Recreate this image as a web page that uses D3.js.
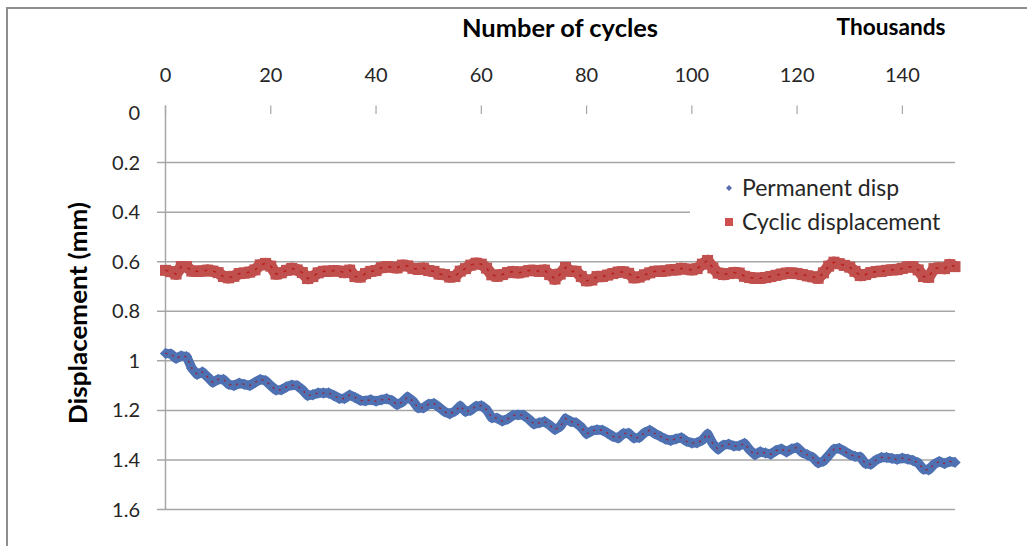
<!DOCTYPE html>
<html>
<head>
<meta charset="utf-8">
<script src="https://cdn.jsdelivr.net/npm/d3@7"></script>
<style>
  html, body { margin: 0; padding: 0; background: #fff; }
  svg { display: block; font-family: Lato, "Open Sans", sans-serif; }
</style>
</head>
<body>
<svg id="chart" width="1027" height="546"></svg>
<script>
// x values: number of cycles (thousands), one reading per 1k cycles
const cycles = d3.range(0, 151);

// Permanent displacement (mm)
const permanentDisp = [
  0.970, 0.972, 0.990, 0.980, 0.983, 1.030, 1.055, 1.045, 1.065, 1.087,
  1.075, 1.075, 1.095, 1.100, 1.090, 1.095, 1.100, 1.087, 1.075, 1.080,
  1.100, 1.118, 1.117, 1.105, 1.098, 1.100, 1.117, 1.140, 1.137, 1.130,
  1.130, 1.130, 1.140, 1.152, 1.152, 1.138, 1.148, 1.160, 1.162, 1.157,
  1.163, 1.158, 1.153, 1.160, 1.177, 1.166, 1.146, 1.162, 1.190, 1.190,
  1.175, 1.172, 1.188, 1.205, 1.214, 1.203, 1.182, 1.205, 1.200, 1.183,
  1.181, 1.197, 1.230, 1.231, 1.243, 1.235, 1.220, 1.218, 1.219, 1.235,
  1.255, 1.250, 1.245, 1.260, 1.278, 1.265, 1.233, 1.245, 1.250, 1.268,
  1.295, 1.283, 1.278, 1.280, 1.292, 1.305, 1.312, 1.293, 1.292, 1.312,
  1.310, 1.290, 1.280, 1.294, 1.305, 1.316, 1.322, 1.315, 1.310, 1.325,
  1.332, 1.331, 1.320, 1.295, 1.335, 1.357, 1.340, 1.336, 1.344, 1.343,
  1.333, 1.360, 1.379, 1.367, 1.372, 1.377, 1.362, 1.355, 1.368, 1.355,
  1.350, 1.370, 1.380, 1.390, 1.412, 1.405, 1.382, 1.357, 1.353, 1.365,
  1.378, 1.386, 1.388, 1.415, 1.418, 1.400, 1.390, 1.390, 1.394, 1.398,
  1.393, 1.397, 1.402, 1.412, 1.438, 1.440, 1.418, 1.406, 1.415, 1.406,
  1.410
];

// Cyclic displacement (mm)
const cyclicDisp = [
  0.635, 0.640, 0.650, 0.620, 0.620, 0.638, 0.639, 0.638, 0.634, 0.638,
  0.644, 0.660, 0.665, 0.659, 0.648, 0.646, 0.642, 0.633, 0.613, 0.607,
  0.618, 0.650, 0.645, 0.635, 0.627, 0.633, 0.644, 0.668, 0.660, 0.645,
  0.639, 0.639, 0.636, 0.638, 0.644, 0.634, 0.660, 0.662, 0.648, 0.639,
  0.636, 0.624, 0.620, 0.622, 0.625, 0.614, 0.617, 0.627, 0.631, 0.626,
  0.636, 0.639, 0.650, 0.652, 0.662, 0.660, 0.638, 0.628, 0.614, 0.606,
  0.610, 0.626, 0.653, 0.659, 0.652, 0.644, 0.640, 0.645, 0.641, 0.636,
  0.635, 0.639, 0.634, 0.652, 0.670, 0.650, 0.623, 0.639, 0.639, 0.660,
  0.677, 0.674, 0.660, 0.660, 0.654, 0.648, 0.642, 0.641, 0.647, 0.665,
  0.662, 0.653, 0.645, 0.639, 0.639, 0.637, 0.633, 0.633, 0.627, 0.630,
  0.633, 0.628, 0.610, 0.595, 0.625, 0.646, 0.652, 0.648, 0.644, 0.646,
  0.659, 0.664, 0.667, 0.667, 0.664, 0.660, 0.655, 0.650, 0.646, 0.646,
  0.648, 0.652, 0.657, 0.661, 0.667, 0.645, 0.618, 0.602, 0.608, 0.615,
  0.622, 0.639, 0.656, 0.652, 0.644, 0.640, 0.639, 0.635, 0.633, 0.632,
  0.627, 0.621, 0.620, 0.633, 0.660, 0.663, 0.628, 0.625, 0.628, 0.612,
  0.620
];

const xTicks = [0, 20, 40, 60, 80, 100, 120, 140];
const yTicks = [0, 0.2, 0.4, 0.6, 0.8, 1, 1.2, 1.4, 1.6];
const yTickLabels = ["0", "0.2", "0.4", "0.6", "0.8", "1", "1.2", "1.4", "1.6"];
const seriesNames = ["Permanent disp", "Cyclic displacement"];

const svg = d3.select("#chart");

// plot area
const x = d3.scaleLinear().domain([0, 150]).range([165.5, 955]);
const y = d3.scaleLinear().domain([0, 1.6]).range([113, 509.5]);

// outer chart border (top and left edges visible)
svg.append("path")
    .attr("d", "M7,546 L7,8 L1027,8")
    .attr("fill", "none")
    .attr("stroke", "#8e8e8e")
    .attr("stroke-width", 2);

// horizontal gridlines + left tick stubs
svg.append("g")
    .selectAll("line")
    .data(yTicks.filter(d => d > 0))
    .join("line")
    .attr("x1", 157).attr("x2", x(150))
    .attr("y1", d => y(d)).attr("y2", d => y(d))
    .attr("stroke", "#a6a6a6")
    .attr("stroke-width", 1.5);

// left axis line
svg.append("line")
    .attr("x1", x(0)).attr("x2", x(0))
    .attr("y1", 105.5).attr("y2", y(1.6))
    .attr("stroke", "#a6a6a6")
    .attr("stroke-width", 1.5);

// top axis tick marks
svg.append("g")
    .selectAll("line")
    .data(xTicks)
    .join("line")
    .attr("x1", d => x(d)).attr("x2", d => x(d))
    .attr("y1", 105.5).attr("y2", 114)
    .attr("stroke", "#a6a6a6")
    .attr("stroke-width", 1.2);

// top axis labels
svg.append("g")
    .selectAll("text")
    .data(xTicks)
    .join("text")
    .attr("x", d => x(d))
    .attr("y", 75)
    .attr("dy", "0.35em")
    .attr("text-anchor", "middle")
    .attr("font-size", 20)
    .attr("fill", "#262626")
    .text(d => d);

// left axis labels
svg.append("g")
    .selectAll("text")
    .data(yTicks)
    .join("text")
    .attr("x", 140)
    .attr("y", d => y(d))
    .attr("dy", "0.35em")
    .attr("text-anchor", "end")
    .attr("font-size", 20)
    .attr("fill", "#262626")
    .text((d, i) => yTickLabels[i]);

// axis titles
svg.append("text")
    .attr("x", 560).attr("y", 29)
    .attr("dy", "0.35em")
    .attr("text-anchor", "middle")
    .attr("font-size", 24).attr("font-weight", "bold")
    .attr("textLength", 196).attr("lengthAdjust", "spacingAndGlyphs")
    .text("Number of cycles");

svg.append("text")
    .attr("x", 891).attr("y", 27)
    .attr("dy", "0.35em")
    .attr("text-anchor", "middle")
    .attr("font-size", 22).attr("font-weight", "bold")
    .attr("textLength", 109).attr("lengthAdjust", "spacingAndGlyphs")
    .text("Thousands");

svg.append("text")
    .attr("transform", "translate(79,313) rotate(-90)")
    .attr("dy", "0.35em")
    .attr("text-anchor", "middle")
    .attr("font-size", 24).attr("font-weight", "bold")
    .attr("textLength", 222).attr("lengthAdjust", "spacingAndGlyphs")
    .text("Displacement (mm)");

// legend box hides part of the 0.4 gridline
svg.append("rect")
    .attr("x", 690).attr("y", 172)
    .attr("width", 272).attr("height", 66)
    .attr("fill", "#fff");

// series
const defs = svg.append("defs");
defs.append("filter").attr("id", "soft")
    .append("feGaussianBlur").attr("stdDeviation", 0.7);

const line = d3.line().x(d => x(d[0])).y(d => y(d[1]));
const cyclicPts = cycles.map((c, i) => [c, cyclicDisp[i]]);
const permPts = cycles.map((c, i) => [c, permanentDisp[i]]);

const cyc = svg.append("g").attr("filter", "url(#soft)");
cyc.append("path")
    .attr("d", line(cyclicPts))
    .attr("fill", "none")
    .attr("stroke", "#c0504d")
    .attr("stroke-width", 11.5)
    .attr("stroke-linejoin", "round");
cyc.selectAll("rect")
    .data(cyclicPts)
    .join("rect")
    .attr("x", d => x(d[0]) - 5.5)
    .attr("y", d => y(d[1]) - 5.5)
    .attr("width", 11).attr("height", 11)
    .attr("fill", "#c0504d");
cyc.append("path")
    .attr("d", line(cyclicPts))
    .attr("fill", "none")
    .attr("stroke", "#b00000")
    .attr("stroke-width", 1.6)
    .attr("stroke-dasharray", "3 6")
    .attr("opacity", 0.6);

const diamond = d3.symbol().type(d3.symbolSquare).size(64);
const perm = svg.append("g").attr("filter", "url(#soft)");
perm.append("path")
    .attr("d", line(permPts))
    .attr("fill", "none")
    .attr("stroke", "#4f71b2")
    .attr("stroke-width", 9.5)
    .attr("stroke-linejoin", "round");
perm.selectAll("path.m")
    .data(permPts)
    .join("path")
    .attr("class", "m")
    .attr("transform", d => `translate(${x(d[0])},${y(d[1])}) rotate(45)`)
    .attr("d", diamond)
    .attr("fill", "#4f71b2");
perm.append("path")
    .attr("d", line(permPts))
    .attr("fill", "none")
    .attr("stroke", "#c00000")
    .attr("stroke-width", 1.3)
    .attr("stroke-dasharray", "2 5")
    .attr("opacity", 0.75);

// legend
const legend = svg.append("g");
legend.append("path")
    .attr("transform", "translate(729,188) rotate(45)")
    .attr("d", d3.symbol().type(d3.symbolSquare).size(18))
    .attr("fill", "#5a6db0");
legend.append("rect")
    .attr("x", 725).attr("y", 218)
    .attr("width", 8).attr("height", 8)
    .attr("fill", "#d0504d");
legend.selectAll("text")
    .data(seriesNames)
    .join("text")
    .attr("x", 742)
    .attr("y", (d, i) => 188 + i * 34)
    .attr("dy", "0.35em")
    .attr("font-size", 23)
    .attr("fill", "#262626")
    .text(d => d);
</script>
</body>
</html>
